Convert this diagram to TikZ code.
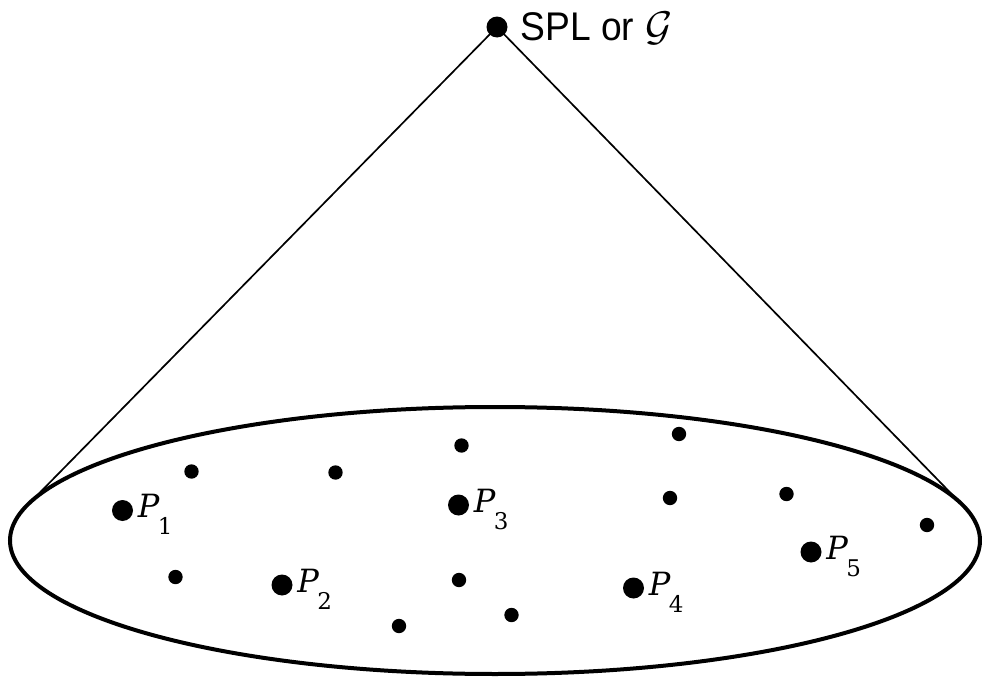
\documentclass[tikz,border=0pt]{standalone}
\usepackage{fontspec}
\newfontfamily\labelfont{Liberation Sans}
\newfontfamily\ptfont{DejaVu Serif}
% point name: italic P with a large, low subscript digit
\newcommand{\ptname}[1]{{\fontsize{16}{17}\selectfont\ptfont\itshape P}\kern-0.8pt\raisebox{-8.6pt}{\fontsize{11.5}{12}\selectfont\ptfont #1}}
\begin{document}
\begin{tikzpicture}[x=0.5pt,y=-0.5pt,
  bigdot/.style={circle,fill=black,inner sep=0pt,minimum size=10.5pt},
  smalldot/.style={circle,fill=black,inner sep=0pt,minimum size=7.2pt},
  plabel/.style={anchor=base west,inner sep=0pt},
  cone/.style={line width=0.85pt},
  base/.style={line width=2pt}]
\useasboundingbox (0,0) rectangle (982,680);

% base of the cone
\draw[base] (495,540.5) ellipse [x radius=485, y radius=133.5];

% apex and its label
\node[bigdot] (apex) at (497,27) {};
\node[anchor=base west,inner sep=0pt,font=\fontsize{20}{22}\selectfont\labelfont] (apexlabel) at (520,40)
  {\scalebox{0.93}[1]{SPL or} {\fontsize{21}{22}\selectfont$\mathcal{G}$}};

% tangent points of the cone's sides
\coordinate (tl) at (26.7,506);
\coordinate (tr) at (963.3,506);
\draw[cone] (apex.center) -- (tl);
\draw[cone] (apex.center) -- (tr);

% labelled points
\node[bigdot] (p1) at (122.5,510.5) {};
\node[bigdot] (p2) at (282,585) {};
\node[bigdot] (p3) at (458.5,505) {};
\node[bigdot] (p4) at (633.5,588) {};
\node[bigdot] (p5) at (811,552) {};
\node[plabel] (l1) at ([xshift=7.5pt,yshift=-3.5pt]p1.center) {\ptname{1}};
\node[plabel] (l2) at ([xshift=7.5pt,yshift=-3.5pt]p2.center) {\ptname{2}};
\node[plabel] (l3) at ([xshift=7.5pt,yshift=-3.5pt]p3.center) {\ptname{3}};
\node[plabel] (l4) at ([xshift=7.5pt,yshift=-3.5pt]p4.center) {\ptname{4}};
\node[plabel] (l5) at ([xshift=7.5pt,yshift=-3.5pt]p5.center) {\ptname{5}};

% other points
\node[smalldot] (s1) at (191.5,471.5) {};
\node[smalldot] (s2) at (335.5,472.5) {};
\node[smalldot] (s3) at (461.5,445.5) {};
\node[smalldot] (s4) at (679,434) {};
\node[smalldot] (s5) at (670,498) {};
\node[smalldot] (s6) at (786.5,494) {};
\node[smalldot] (s7) at (927,525) {};
\node[smalldot] (s8) at (175.5,577) {};
\node[smalldot] (s9) at (459,580) {};
\node[smalldot] (s10) at (399,626) {};
\node[smalldot] (s11) at (511.5,615) {};
\end{tikzpicture}
\end{document}
